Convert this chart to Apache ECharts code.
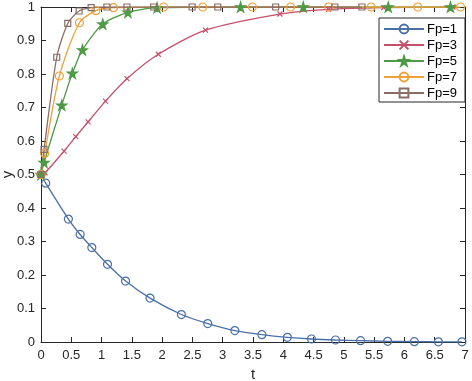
<!DOCTYPE html>
<html><head><meta charset="utf-8">
<script src="https://cdn.jsdelivr.net/npm/echarts@6/dist/echarts.min.js"></script>
<style>html,body{margin:0;padding:0;background:#fff}#c{width:472px;height:381px}</style>
</head><body><div id="c"></div>
<script>
// Data (t, y)
var blueT = [0, 0.078, 0.452, 0.646, 0.839, 1.098, 1.396, 1.80, 2.318, 2.753, 3.20, 3.647, 4.067, 4.465, 4.862, 5.276, 5.723, 6.164, 6.561, 6.95];
var blueY = [0.5, 0.474, 0.367, 0.321, 0.282, 0.232, 0.182, 0.131, 0.082, 0.055, 0.034, 0.022, 0.014, 0.009, 0.006, 0.004, 0.002, 0.001, 0.0006, 0.0004];
var redT = [0, 0.066, 0.381, 0.574, 0.778, 1.065, 1.419, 1.937, 2.715, 3.945, 4.747, 5.657, 6.80];
var redY = [0.5, 0.505, 0.570, 0.613, 0.657, 0.719, 0.786, 0.859, 0.931, 0.979, 0.993, 0.998, 1.0];
var greenT = [0, 0.05, 0.343, 0.518, 0.684, 1.02, 1.435, 1.916, 3.295, 4.33, 5.733, 6.76];
var greenY = [0.5, 0.536, 0.707, 0.802, 0.872, 0.949, 0.984, 0.998, 1, 1, 1, 1];
var orangeT = [0, 0.06, 0.303, 0.634, 0.906, 1.197, 2.025, 2.67, 3.49, 4.12, 4.75, 5.45, 6.22, 6.925];
var orangeY = [0.5, 0.563, 0.794, 0.953, 0.989, 0.998, 1, 1, 1, 1, 1, 1, 1, 1];
var brownT = [0, 0.05, 0.26, 0.442, 0.629, 0.828, 1.088, 1.419, 1.86, 2.495, 2.919, 3.874, 4.851, 5.298];
var brownY = [0.5, 0.575, 0.850, 0.951, 0.988, 0.998, 1, 1, 1, 1, 1, 1, 1, 1];
var seriesNames = ['Fp=1', 'Fp=3', 'Fp=5', 'Fp=7', 'Fp=9'];

function pairs(t, y) { return t.map(function (v, i) { return [v, y[i]]; }); }

var axisCol = '#262626';
var font = 'Liberation Sans, Arial, sans-serif';
var cross = 'path://M0,0L10,10M10,0L0,10';
var star = 'path://M50,0L61,35L98,35L68,57L79,91L50,70L21,91L32,57L2,35L39,35Z';

function mk(name, t, y, color, symbol, size, filled) {
  return {
    name: name, type: 'line', data: pairs(t, y),
    smooth: 0.25,
    symbol: symbol, symbolSize: size, showAllSymbol: true,
    color: color,
    lineStyle: { color: color, width: 1.3 },
    itemStyle: { color: filled ? color : 'rgba(255,255,255,0)', borderColor: color, borderWidth: 1.2 },
    emphasis: { disabled: true },
    animation: false
  };
}

var chart = echarts.init(document.getElementById('c'), null, { renderer: 'canvas' });
chart.setOption({
  animation: false,
  backgroundColor: '#fff',
  textStyle: { fontFamily: font },
  grid: { left: 41, right: 7, top: 7, bottom: 39, containLabel: false, outerBoundsMode: 'none' },
  legend: {
    orient: 'vertical', left: 379, top: 18,
    backgroundColor: '#fff', borderColor: axisCol, borderWidth: 1,
    padding: [4, 8, 2, 4], itemGap: 2, itemWidth: 40, itemHeight: 11,
    textStyle: { fontSize: 13, lineHeight: 14, color: '#000', fontFamily: font, padding: [0, 0, 0, -2] },
    data: seriesNames
  },
  xAxis: [{
    type: 'value', min: 0, max: 7, interval: 0.5, position: 'bottom',
    name: 't', nameLocation: 'middle', nameGap: 25, nameMoveOverlap: false,
    nameTextStyle: { fontSize: 15, color: axisCol, fontFamily: font },
    axisLine: { lineStyle: { color: axisCol, width: 1 } },
    axisTick: { inside: true, length: 5, lineStyle: { color: axisCol } },
    axisLabel: { fontSize: 13, color: axisCol, margin: 7, fontFamily: font },
    splitLine: { show: false }
  }, {
    type: 'value', min: 0, max: 7, interval: 0.5, position: 'top',
    axisLine: { onZero: false, lineStyle: { color: axisCol, width: 1 } },
    axisTick: { inside: true, length: 5, lineStyle: { color: axisCol } },
    axisLabel: { show: false }, splitLine: { show: false }
  }],
  yAxis: [{
    type: 'value', min: 0, max: 1, interval: 0.1, position: 'left',
    name: 'y', nameLocation: 'middle', nameGap: 33, nameRotate: 90, nameMoveOverlap: false,
    nameTextStyle: { fontSize: 15, color: axisCol, fontFamily: font, align: 'center', verticalAlign: 'middle' },
    axisLine: { show: true, lineStyle: { color: axisCol, width: 1 } },
    axisTick: { show: true, inside: true, length: 5, lineStyle: { color: axisCol } },
    axisLabel: { fontSize: 13, color: axisCol, margin: 6, fontFamily: font },
    splitLine: { show: false }
  }, {
    type: 'value', min: 0, max: 1, interval: 0.1, position: 'right',
    axisLine: { show: true, onZero: false, lineStyle: { color: axisCol, width: 1 } },
    axisTick: { show: true, inside: true, length: 5, lineStyle: { color: axisCol } },
    axisLabel: { show: false }, splitLine: { show: false }
  }],
  series: [
    mk(seriesNames[0], blueT, blueY, '#4a70a8', 'circle', 8, false),
    mk(seriesNames[1], redT, redY, '#c4506a', cross, 5, false),
    mk(seriesNames[2], greenT, greenY, '#4f9a46', star, 10, true),
    mk(seriesNames[3], orangeT, orangeY, '#f0a03a', 'circle', 8, false),
    mk(seriesNames[4], brownT, brownY, '#8b6d66', 'rect', 6, false)
  ]
});
</script>
</body></html>
